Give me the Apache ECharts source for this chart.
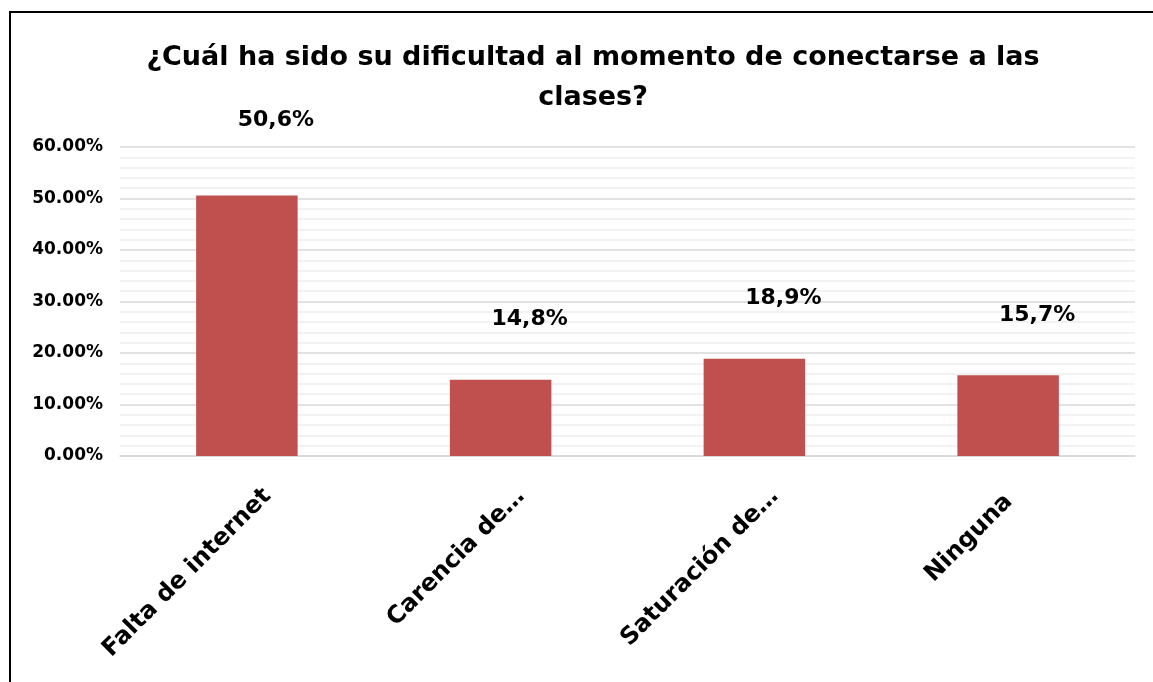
<!DOCTYPE html>
<html>
<head>
<meta charset="utf-8">
<script src="https://cdn.jsdelivr.net/npm/echarts@6/dist/echarts.min.js"></script>
<style>
  html, body { margin: 0; padding: 0; background: #fff; }
  #main { width: 1153px; height: 682px; }
</style>
</head>
<body>
<div id="main"></div>
<script>
// chart data
var categories = ['Falta de internet', 'Carencia de…', 'Saturación de…', 'Ninguna'];
var shares = [0.506, 0.148, 0.189, 0.157];
var shareLabels = ['50,6%', '14,8%', '18,9%', '15,7%'];

var font = 'DejaVu Sans';

var myChart = echarts.init(document.getElementById('main'));

var labelStyle = {
    fontFamily: font,
    fontSize: 24,
    fontWeight: 'bold',
    color: '#000'
};

var option = {
    backgroundColor: '#ffffff',
    animation: false,
    title: {
        text: '¿Cuál ha sido su dificultad al momento de conectarse a las\nclases?',
        left: 588,
        top: 33,
        textAlign: 'center',
        textStyle: {
            fontFamily: font,
            fontSize: 27,
            fontWeight: 'bold',
            color: '#000',
            lineHeight: 40
        }
    },
    graphic: [{
        type: 'rect',
        shape: { x: 10, y: 12, width: 1160, height: 690 },
        style: { fill: 'none', stroke: '#000', lineWidth: 2 }
    }],
    grid: {
        left: 120,
        right: 18,
        top: 147,
        bottom: 226
    },
    xAxis: {
        type: 'category',
        data: categories,
        axisTick: { show: false },
        axisLine: { lineStyle: { color: '#d9d9d9', width: 1.5 } },
        axisLabel: {
            interval: 0,
            rotate: 45,
            margin: 16,
            formatter: function (v, i) {
                return (i === 3 ? '{b|' : '{a|') + v + '}';
            },
            rich: {
                a: Object.assign({ padding: [58, 0, 0, 0] }, labelStyle),
                b: Object.assign({ padding: [38, 18, 0, 0] }, labelStyle)
            }
        }
    },
    yAxis: {
        type: 'value',
        min: 0,
        max: 0.6,
        interval: 0.1,
        axisLine: { show: false },
        axisTick: { show: false },
        axisLabel: {
            margin: 17,
            fontFamily: font,
            fontSize: 17,
            fontWeight: 'bold',
            color: '#000',
            formatter: function (v) { return (v * 100).toFixed(2) + '%'; }
        },
        splitLine: { lineStyle: { color: '#d9d9d9', width: 1.5 } },
        minorTick: { show: false, splitNumber: 5 },
        minorSplitLine: { show: true, lineStyle: { color: '#eeeeee', width: 1.5 } }
    },
    series: [{
        type: 'bar',
        barWidth: '40%',
        itemStyle: { color: '#C0504D' },
        data: shares.map(function (v, i) {
            return {
                value: v,
                label: { offset: [29, i === 0 ? -59 : -44] }
            };
        }),
        label: {
            show: true,
            position: 'top',
            fontFamily: font,
            fontSize: 22,
            fontWeight: 'bold',
            color: '#000',
            formatter: function (p) { return shareLabels[p.dataIndex]; }
        }
    }]
};

myChart.setOption(option);
</script>
</body>
</html>
